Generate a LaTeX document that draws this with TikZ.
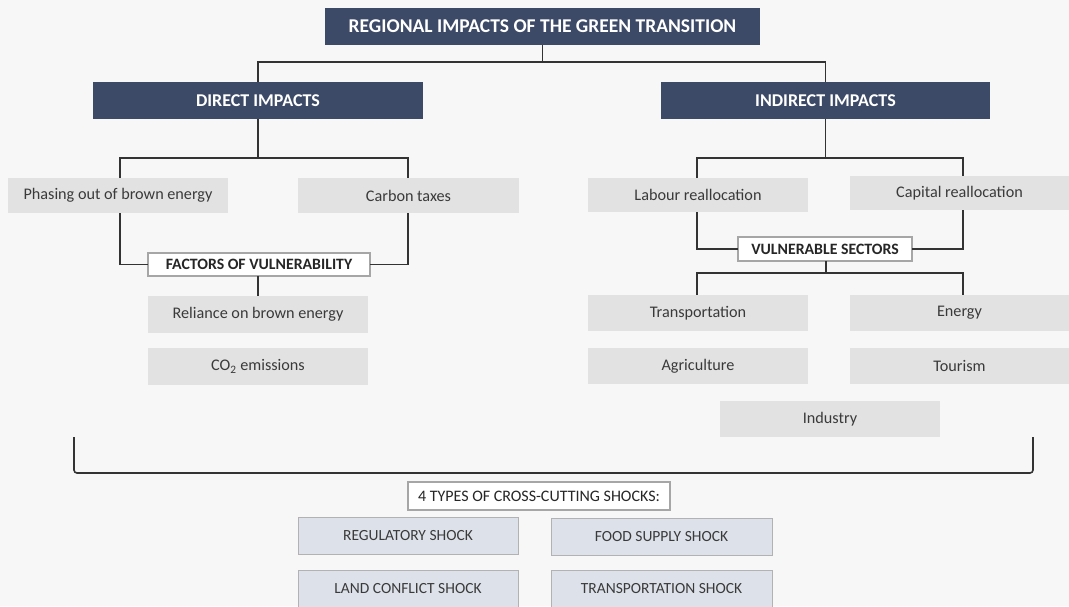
\documentclass[tikz,border=0pt]{standalone}
\usepackage{fontspec}
\setmainfont{Carlito}
\definecolor{navy}{HTML}{3D4A67}
\definecolor{boxgray}{HTML}{E2E2E2}
\definecolor{shockfill}{HTML}{DDE2EA}
\definecolor{linecol}{HTML}{333333}
\definecolor{txt}{HTML}{3A3A3A}
\definecolor{bg}{HTML}{F7F7F7}
\begin{document}
\begin{tikzpicture}[x=1pt,y=-1pt,
  every node/.style={inner sep=0pt,outer sep=0pt},
  headbox/.style={fill=navy,text=white,font=\fontsize{18}{18}\selectfont\bfseries},
  graybox/.style={fill=boxgray,text=txt,font=\fontsize{16.2}{16}\selectfont},
  labbox/.style={fill=white,draw=gray!70,line width=1.2pt,text=black!85,font=\fontsize{15.8}{16}\selectfont\bfseries},
  shockbox/.style={fill=shockfill,draw=gray!60,line width=0.8pt,text=txt,font=\fontsize{15.5}{16}\selectfont},
  conn/.style={draw=linecol,line width=1.6pt}]
\fill[bg] (0,0) rectangle (1069,606);
\useasboundingbox (0,0) rectangle (1069,606);
% headers
\node[headbox,font=\fontsize{19.5}{20}\selectfont\bfseries,minimum width=435pt,minimum height=37pt] (title) at (542.5,26.5) {REGIONAL IMPACTS OF THE GREEN TRANSITION};
\node[headbox,minimum width=330pt,minimum height=37pt] (direct) at (258,100.5) {DIRECT IMPACTS};
\node[headbox,minimum width=329pt,minimum height=37pt] (indirect) at (825.5,100.5) {INDIRECT IMPACTS};
% left branch
\node[graybox,minimum width=220pt,minimum height=35pt] (phase) at (118,195.5) {Phasing out of brown energy};
\node[graybox,minimum width=221pt,minimum height=35pt] (carbon) at (408.5,195.5) {Carbon taxes};
\node[labbox,minimum width=222pt,minimum height=23pt] (factors) at (259,264.5) {FACTORS OF VULNERABILITY};
\node[graybox,minimum width=220pt,minimum height=37pt] (reliance) at (258,314.5) {Reliance on brown energy};
\node[graybox,minimum width=220pt,minimum height=37pt] (co2) at (258,366.5) {CO\textsubscript{2} emissions};
% right branch
\node[graybox,minimum width=220pt,minimum height=34pt] (labour) at (698,195) {Labour reallocation};
\node[graybox,minimum width=219pt,minimum height=34pt] (capital) at (959.5,193) {Capital reallocation};
\node[labbox,minimum width=174pt,minimum height=24pt] (vuln) at (825,249) {VULNERABLE SECTORS};
\node[graybox,minimum width=220pt,minimum height=36pt] (transp) at (698,313) {Transportation};
\node[graybox,minimum width=219pt,minimum height=36pt] (energy) at (959.5,313) {Energy};
\node[graybox,minimum width=220pt,minimum height=36pt] (agri) at (698,366) {Agriculture};
\node[graybox,minimum width=219pt,minimum height=36pt] (tourism) at (959.5,366) {Tourism};
\node[graybox,minimum width=220pt,minimum height=36pt] (industry) at (830,419) {Industry};
% shocks
\node[labbox,font=\fontsize{16}{16}\selectfont,minimum width=262pt,minimum height=28pt] (types) at (539,496) {4 TYPES OF CROSS-CUTTING SHOCKS:};
\node[shockbox,minimum width=220pt,minimum height=37pt] (reg) at (408,535.5) {REGULATORY SHOCK};
\node[shockbox,minimum width=221pt,minimum height=37pt] (food) at (661.5,536.5) {FOOD SUPPLY SHOCK};
\node[shockbox,minimum width=220pt,minimum height=37pt] (land) at (408,588.5) {LAND CONFLICT SHOCK};
\node[shockbox,minimum width=221pt,minimum height=37pt] (tshock) at (661.5,588.5) {TRANSPORTATION SHOCK};
% connectors top
\coordinate (tj) at (542.5,62);
\draw[conn] (title.south) -- (tj);
\draw[conn] (tj) -| (direct.north);
\draw[conn] (tj) -| (indirect.north);
% left tree
\coordinate (dj) at (258,158);
\draw[conn] (direct.south) -- (dj);
\draw[conn] (dj) -| (phase.north -| 120,0);
\draw[conn] (dj) -| (carbon.north -| 408,0);
\coordinate (pl) at (120,213);
\coordinate (cl) at (408,213);
\draw[conn] (pl) |- (factors.west);
\draw[conn] (cl) |- (factors.east);
\draw[conn] (factors.south -| 258,0) -- (reliance.north);
% right tree
\coordinate (ij) at (825.5,158);
\draw[conn] (indirect.south) -- (ij);
\draw[conn] (ij) -| (labour.north -| 697,0);
\draw[conn] (ij) -| (capital.north -| 963,0);
\coordinate (ll) at (697,212);
\coordinate (cp) at (963,210);
\draw[conn] (ll) |- (vuln.west);
\draw[conn] (cp) |- (vuln.east);
\coordinate (vj) at (826,273);
\draw[conn] (vuln.south -| 826,0) -- (vj);
\draw[conn] (vj) -| (transp.north -| 697,0);
\draw[conn] (vj) -| (energy.north -| 963,0);
% bracket
\coordinate (bl) at (74,437);
\coordinate (br) at (1033,437);
\draw[conn,rounded corners=3pt] (bl) -- (74,473) -- (1033,473) -- (br);
\end{tikzpicture}
\end{document}
